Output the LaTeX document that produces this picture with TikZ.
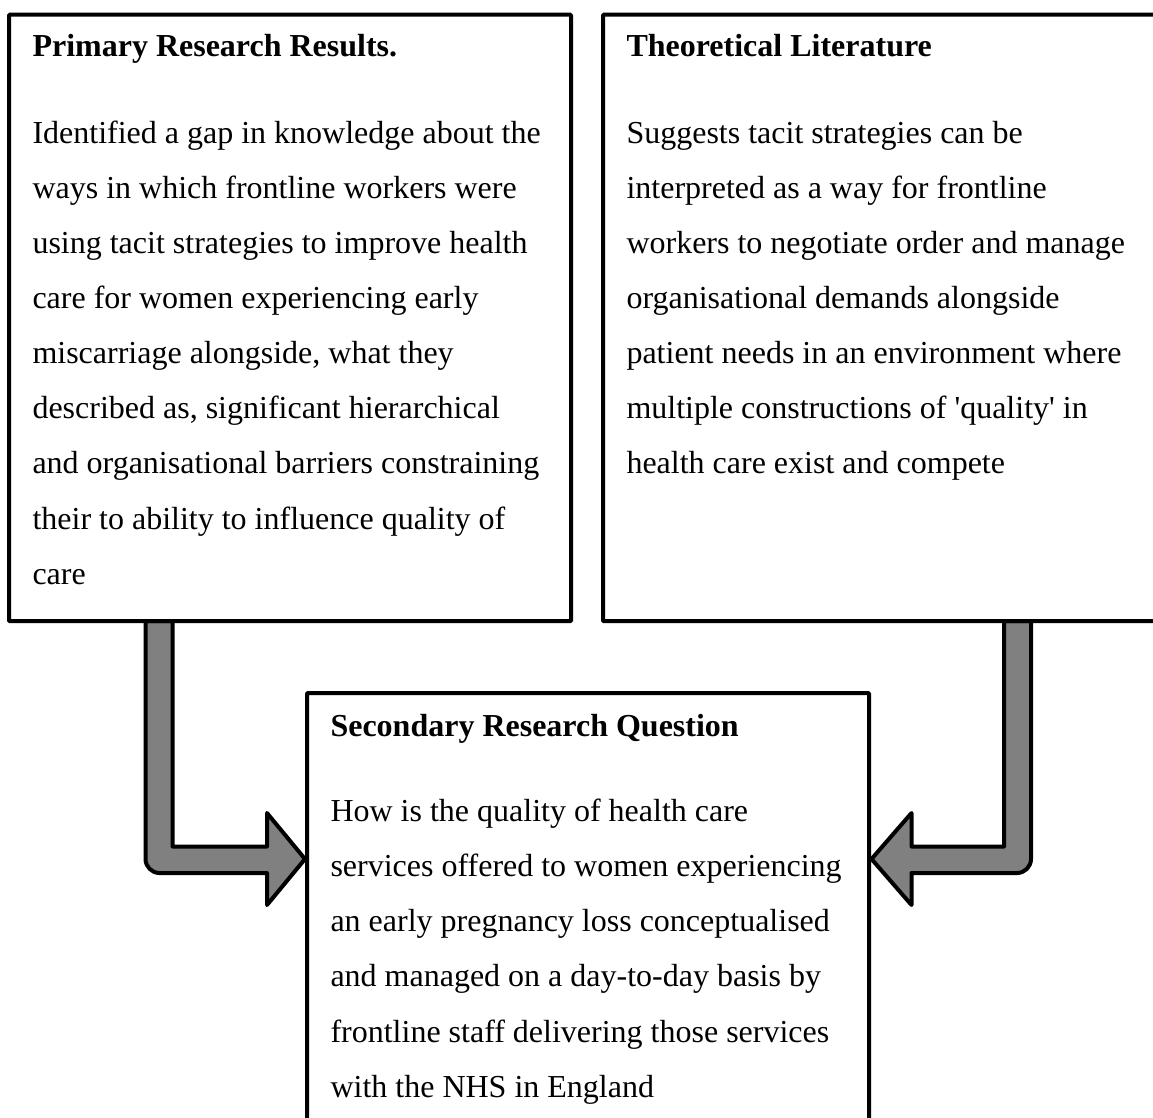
\documentclass[tikz,border=0pt]{standalone}
\usepackage{fontspec}
\setmainfont{Liberation Serif}
\definecolor{arrowgray}{HTML}{808080}
\newcommand\firstline{\rule{0pt}{30pt}}
\begin{document}
\begin{tikzpicture}[x=1pt, y=-1pt,
  panel/.style={draw, line width=4pt, fill=white, rectangle, rounded corners=1pt,
    outer sep=0pt, inner sep=0pt, anchor=north west},
  heading/.style={font=\fontsize{32}{55.1}\selectfont\bfseries, anchor=base west,
    inner sep=0pt, outer sep=0pt},
  bodytext/.style={font=\fontsize{32}{55.1}\selectfont, align=left, anchor=north west,
    inner sep=0pt, outer sep=0pt},
  blockarrow/.style={draw, line width=4pt, fill=arrowgray, line join=round}]
\useasboundingbox (0,0) rectangle (1153,1117);
\clip (0,0) rectangle (1153,1117);

% block arrows, drawn first so the panels sit over their ends
\draw[blockarrow] (145.5,621) -- (145.5,859)
  .. controls (145.5,866.7) and (151.8,873) .. (159.5,873)
  -- (267,873) -- (267,905) -- (305,859) -- (267,813) -- (267,846.5)
  -- (172.5,846.5) -- (172.5,621) -- cycle;
\draw[blockarrow] (1004,621) -- (1004,846.5) -- (911.5,846.5) -- (911.5,813)
  -- (871.5,859) -- (911.5,905) -- (911.5,873) -- (1017,873)
  .. controls (1024.7,873) and (1031,866.7) .. (1031,859)
  -- (1031,621) -- cycle;

% panels
\node[panel, minimum width=562pt, minimum height=606.5pt] (prim) at (9,14.7) {};
\node[panel, minimum width=570pt, minimum height=606.5pt] (theo) at (603,14.7) {};
\node[panel, minimum width=562pt, minimum height=460pt] (sec) at (307,693) {};

% panel texts
\node[heading] (primhead) at (32.5,56.7) {Primary Research Results.};
\node[bodytext] (primbody) at (32.5,113.3) {\firstline Identified a gap in knowledge about the\\
ways in which frontline workers were\\
using tacit strategies to improve health\\
care for women experiencing early\\
miscarriage alongside, what they\\
described as, significant hierarchical\\
and organisational barriers constraining\\
their to ability to influence quality of\\
care};

\node[heading] (theohead) at (626.5,56.7) {Theoretical Literature};
\node[bodytext] (theobody) at (626.5,113.3) {\firstline Suggests tacit strategies can be\\
interpreted as a way for frontline\\
workers to negotiate order and manage\\
organisational demands alongside\\
patient needs in an environment where\\
multiple constructions of \textquotesingle quality\textquotesingle\ in\\
health care exist and compete};

\node[heading] (sechead) at (330.5,736) {Secondary Research Question};
\node[bodytext] (secbody) at (330.5,791.6) {\firstline How is the quality of health care\\
services offered to women experiencing\\
an early pregnancy loss conceptualised\\
and managed on a day-to-day basis by\\
frontline staff delivering those services\\
with the NHS in England};
\end{tikzpicture}
\end{document}
